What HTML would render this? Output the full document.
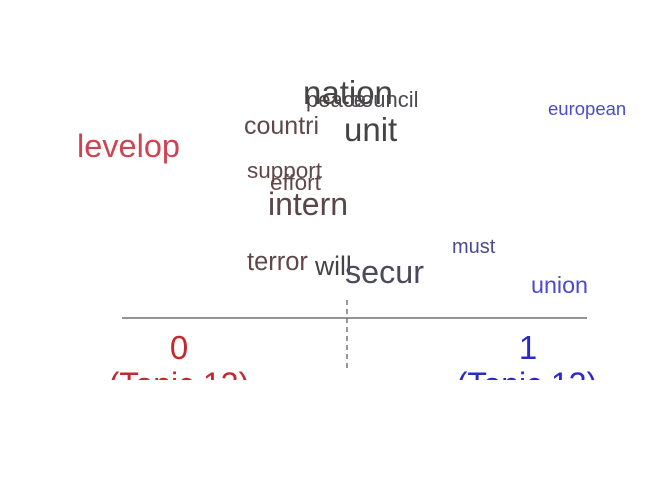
<!DOCTYPE html>
<html><head><meta charset="utf-8"><style>html,body{margin:0;padding:0;background:#fff}svg{display:block}text{font-family:"Liberation Sans",sans-serif}</style></head><body>
<svg width="672" height="480" viewBox="0 0 672 480">
<defs><clipPath id="c"><rect x="0" y="0" width="672" height="380"/></clipPath></defs>
<text x="303" y="104" font-size="33" fill="#444">nation</text>
<text x="306" y="107" font-size="22" fill="#4a4444">peace</text>
<text x="350" y="107" font-size="22" fill="#4a4a50">council</text>
<text x="548" y="115" font-size="18.5" fill="#4a4ad0">european</text>
<text x="244" y="134" font-size="25" fill="#604848">countri</text>
<text x="344" y="141" font-size="33" fill="#444">unit</text>
<text x="77" y="157" font-size="32.5" fill="#d04452">levelop</text>
<text x="247" y="178" font-size="22.5" fill="#604848">support</text>
<text x="270" y="190" font-size="22.5" fill="#604848">effort</text>
<text x="268" y="215" font-size="32" fill="#5a4646">intern</text>
<text x="452" y="253" font-size="20" fill="#4a4a90">must</text>
<text x="247" y="270" font-size="25.5" fill="#604848">terror</text>
<text x="315" y="275" font-size="26.5" fill="#444">will</text>
<text x="345" y="283" font-size="32.3" fill="#4a4a5c">secur</text>
<text x="531" y="293" font-size="23.3" fill="#4a4ad0">union</text>
<line x1="122" y1="318" x2="587" y2="318" stroke="#555" stroke-width="1.2"/>
<line x1="347" y1="300" x2="347" y2="370" stroke="#777" stroke-width="1.5" stroke-dasharray="5,4"/>
<text x="179" y="359" font-size="33" fill="#c4282e" text-anchor="middle">0</text>
<text x="528" y="359" font-size="33" fill="#2a2acc" text-anchor="middle">1</text>
<g clip-path="url(#c)">
<text x="179" y="395" font-size="32" fill="#c4282e" text-anchor="middle">(Topic 13)</text>
<text x="527" y="395" font-size="32" fill="#2a2acc" text-anchor="middle">(Topic 13)</text>
</g>
</svg>
</body></html>
